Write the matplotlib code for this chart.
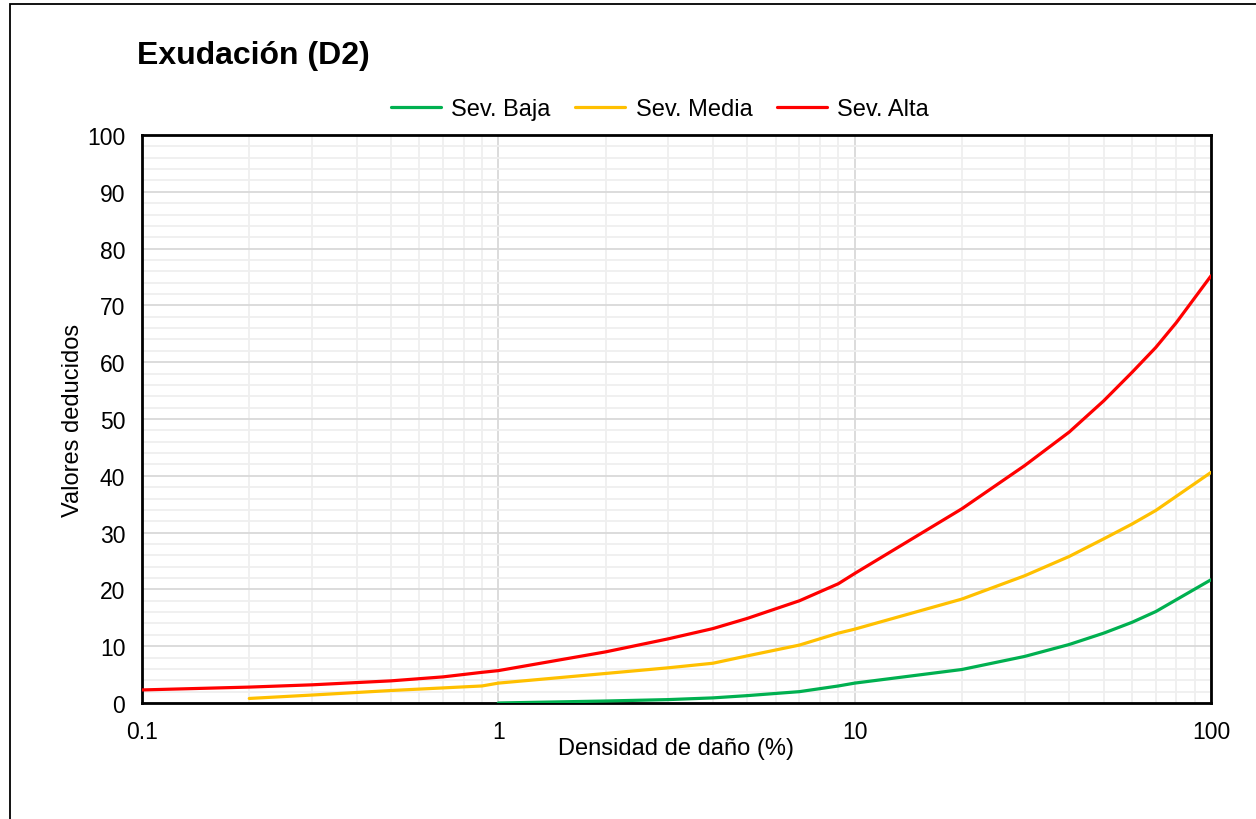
import matplotlib
matplotlib.use("Agg")
import matplotlib.pyplot as plt
from matplotlib.ticker import FixedLocator, FixedFormatter, NullFormatter
from matplotlib.patches import Rectangle

plt.rcParams['font.family'] = ['Liberation Sans', 'DejaVu Sans']

# Deduct-value curves for bleeding (D2), by severity
dens_baja = [1, 2, 3, 4, 5, 7, 9, 10, 20, 30, 40, 50, 60, 70, 100]
val_baja = [0.0, 0.35, 0.6, 0.9, 1.3, 2.0, 3.0, 3.5, 5.9, 8.2, 10.3, 12.3, 14.2, 16.1, 21.7]

dens_media = [0.2, 0.3, 0.5, 0.9, 1, 2, 3, 4, 5, 7, 9, 10, 20, 30, 40, 50, 60, 70, 100]
val_media = [0.8, 1.4, 2.2, 3.0, 3.5, 5.2, 6.2, 7.0, 8.3, 10.2, 12.3, 13.0, 18.3, 22.4, 25.8, 28.9, 31.5, 33.9, 40.6]

dens_alta = [0.1, 0.2, 0.3, 0.5, 0.7, 0.9, 1, 2, 3, 4, 5, 7, 9, 10, 20, 30, 40, 50, 60, 70, 80, 100]
val_alta = [2.3, 2.8, 3.2, 3.9, 4.6, 5.4, 5.7, 9.0, 11.3, 13.1, 14.9, 18.0, 21.0, 22.8, 34.2, 41.8, 47.7, 53.2, 58.2, 62.6, 67.0, 75.2]

series_labels = ["Sev. Baja", "Sev. Media", "Sev. Alta"]
series_colors = ["#00B050", "#FFC000", "#FF0000"]

x_ticks = [0.1, 1, 10, 100]
x_ticklabels = ["0.1", "1", "10", "100"]
y_ticks = list(range(0, 101, 10))

fig = plt.figure(figsize=(12.56, 8.2), dpi=100)
ax = fig.add_axes([142 / 1256, 1 - 704 / 820, (1211 - 142) / 1256, (704 - 136) / 820])

for xs, ys, lab, col in zip([dens_baja, dens_media, dens_alta],
                            [val_baja, val_media, val_alta],
                            series_labels, series_colors):
    ax.plot(xs, ys, color=col, lw=2.3, label=lab, solid_capstyle='round', zorder=3)

ax.set_xscale('log')
ax.set_xlim(0.1, 100)
ax.set_ylim(0, 100)

ax.xaxis.set_major_locator(FixedLocator(x_ticks))
ax.xaxis.set_major_formatter(FixedFormatter(x_ticklabels))
minor_x = [m * 10.0 ** e for e in (-1, 0, 1) for m in range(2, 10)]
ax.xaxis.set_minor_locator(FixedLocator(minor_x))
ax.xaxis.set_minor_formatter(NullFormatter())
ax.yaxis.set_major_locator(FixedLocator(y_ticks))
ax.yaxis.set_minor_locator(FixedLocator(list(range(2, 100, 2))))

ax.grid(which='major', color='#d9d9d9', lw=1.3, zorder=1)
ax.grid(which='minor', color='#efefef', lw=1.3, zorder=0)
ax.set_axisbelow(True)

ax.tick_params(which='both', length=0)
ax.tick_params(axis='x', labelsize=16.5, pad=12)
ax.tick_params(axis='y', labelsize=16.5, pad=12)

for sp in ax.spines.values():
    sp.set_color('black')
    sp.set_linewidth(2)

ax.set_xlabel("Densidad de daño (%)", fontsize=17, labelpad=-4)
ax.set_ylabel("Valores deducidos", fontsize=17, labelpad=2)

fig.text(137 / 1256, 1 - 56 / 820, "Exudación (D2)", fontsize=23, fontweight='bold',
         ha='left', va='center')

fig.legend(loc='center', bbox_to_anchor=(660 / 1256, 1 - 110 / 820), ncol=3,
           frameon=False, fontsize=17, handlelength=2.1, handletextpad=0.45,
           columnspacing=1.05)

# outer chart frame
fig.patches.append(Rectangle((10 / 1256, -0.1), 1.2, 1 - 5 / 820 + 0.1,
                             transform=fig.transFigure, fill=False,
                             edgecolor='black', lw=1.3))

fig.savefig("out.png", dpi=100)
